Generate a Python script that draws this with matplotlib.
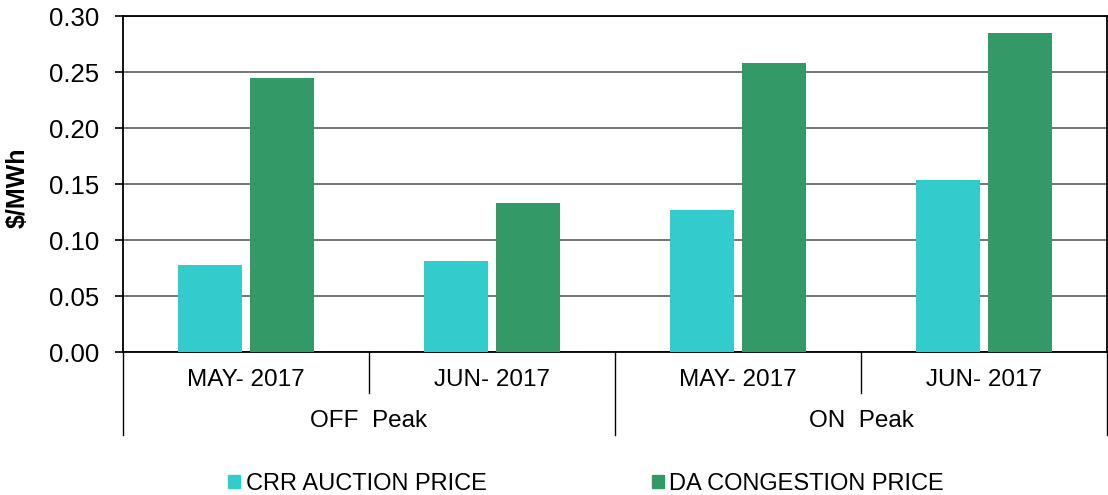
import matplotlib.pyplot as plt
from matplotlib.patches import Patch
from matplotlib.transforms import blended_transform_factory

plt.rcParams['font.family'] = ['Liberation Sans', 'DejaVu Sans']

months = ["MAY- 2017", "JUN- 2017", "MAY- 2017", "JUN- 2017"]
groups = ["OFF  Peak", "ON  Peak"]
crr_price = [0.078, 0.081, 0.127, 0.154]
da_price = [0.245, 0.133, 0.258, 0.285]
yticks = [0.00, 0.05, 0.10, 0.15, 0.20, 0.25, 0.30]

crr_color = "#33CCCC"
da_color = "#339966"

fig = plt.figure(figsize=(11.08, 4.95), dpi=100)
ax = fig.add_axes([123 / 1108, 1 - 352 / 495, 984 / 1108, 336 / 495])

x = list(range(len(months)))
w = 0.26
off = 0.148
ax.bar([i - off for i in x], crr_price, width=w, color=crr_color, zorder=3)
ax.bar([i + off for i in x], da_price, width=w, color=da_color, zorder=3)

ax.set_xlim(-0.5, 3.5)
ax.set_ylim(0, 0.30)
ax.set_yticks(yticks)
ax.set_yticklabels([f"{v:.2f}" for v in yticks], fontsize=18.5)
ax.tick_params(axis='y', length=6, width=1.2, pad=11)
ax.yaxis.grid(True, color="#777777", linewidth=1.4, zorder=0)
for s in ax.spines.values():
    s.set_linewidth(1.3)
    s.set_color("black")

# two-level category axis: months on top, peak groups below
ax.set_xticks([])
tr = blended_transform_factory(ax.transData, ax.transAxes)
for i, m in enumerate(months):
    ax.text(i, -0.083, m, transform=tr, ha='center', va='center', fontsize=17.5)
for sep in [0.5, 2.5]:
    ax.plot([sep, sep], [0, -0.122], transform=tr, color='black', lw=1, clip_on=False)
for sep in [-0.5, 1.5, 3.5]:
    ax.plot([sep, sep], [0, -0.247], transform=tr, color='black', lw=1, clip_on=False)
for j, g in enumerate(groups):
    ax.text(2 * j + 0.5, -0.205, g, transform=tr, ha='center', va='center', fontsize=17.5)

fig.text(18 / 1108, 1 - 188 / 495, "$/MWh", rotation=90, ha='center', va='center',
         fontsize=18, fontweight='bold')

handles = [Patch(color=crr_color, label="CRR AUCTION PRICE"),
           Patch(color=da_color, label="DA CONGESTION PRICE")]
fig.legend(handles=handles, loc='center', bbox_to_anchor=(586 / 1108, 1 - 484 / 495),
           ncol=2, frameon=False, fontsize=17, handlelength=0.5, handleheight=0.5,
           handletextpad=0.25, columnspacing=7.0)

fig.savefig("out.png", dpi=100)
